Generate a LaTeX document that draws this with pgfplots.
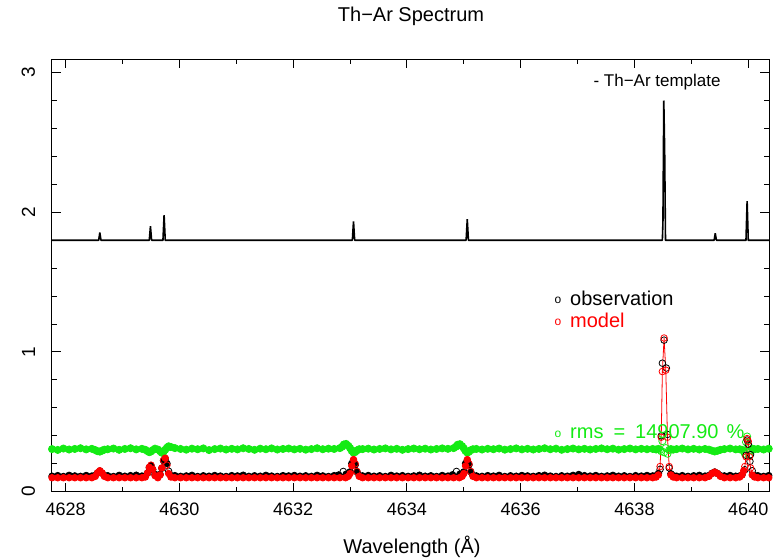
\documentclass[border=0pt]{standalone}
\usepackage{fontspec}
\setmainfont{Liberation Sans}
\usepackage{pgfplots}
\pgfplotsset{compat=1.18}
\definecolor{pgred}{RGB}{255,0,0}
\definecolor{pggreen}{RGB}{20,235,20}
\newcommand{\sym}{\raisebox{1.5pt}{\fontsize{12}{12}\selectfont o}\hspace{9pt}}
\begin{document}
\begin{tikzpicture}[font=\fontsize{20}{23}\selectfont]
\begin{axis}[
  at={(51.7pt,66.3pt)}, anchor=south west,
  scale only axis, width=717.6pt, height=432.4pt,
  xmin=4627.754, xmax=4640.37, ymin=0, ymax=3.095,
  clip=false,
  axis line style={line width=1.5pt},
  tick align=inside,
  major tick length=9pt, minor tick length=5pt,
  every tick/.style={black, line width=1pt},
  xtick={4628,4630,4632,4634,4636,4638,4640}, minor x tick num=1,
  ytick={0,1,2,3}, minor y tick num=4,
  scaled x ticks=false,
  /pgf/number format/1000 sep={},
  /pgf/number format/assume math mode=true,
  xticklabel style={yshift=-8pt},
  yticklabel style={xshift=-13pt, rotate=90, anchor=south, font=\fontsize{19}{22}\selectfont},
  xticklabel style={font=\fontsize{18}{21}\selectfont},
]
% Th-Ar template
\addplot[black, line width=1.6pt, line join=bevel] coordinates {
(4627.754,1.8) (4628.58,1.8) (4628.60,1.855) (4628.62,1.8)
(4629.47,1.8) (4629.49,1.90) (4629.51,1.8)
(4629.71,1.8) (4629.73,1.98) (4629.75,1.8)
(4633.04,1.8) (4633.06,1.935) (4633.08,1.8)
(4635.04,1.8) (4635.06,1.95) (4635.08,1.8)
(4638.49,1.8) (4638.50,1.93) (4638.515,2.80) (4638.53,2.45) (4638.545,1.8)
(4639.40,1.8) (4639.42,1.85) (4639.44,1.8)
(4639.96,1.8) (4639.98,2.08) (4640.00,1.8) (4640.37,1.8)
};
% rms (green)
\addplot[scatter, only marks, line width=0.8pt, mark size=3.6pt,
  scatter src=explicit symbolic,
  scatter/classes={f={mark=*,draw=pggreen,fill=pggreen}, o={mark=o,draw=pggreen}}]
  table[meta=c] {
x y c
4627.76 0.305 f
4627.86 0.299 f
4627.96 0.309 f
4628.06 0.302 f
4628.16 0.306 f
4628.26 0.311 f
4628.36 0.303 f
4628.46 0.307 f
4628.52 0.298 f
4628.56 0.290 f
4628.60 0.287 f
4628.64 0.294 f
4628.68 0.301 f
4628.74 0.304 f
4628.84 0.309 f
4628.94 0.300 f
4629.04 0.306 f
4629.14 0.311 f
4629.24 0.303 f
4629.34 0.307 f
4629.40 0.300 f
4629.44 0.290 f
4629.47 0.283 f
4629.50 0.288 f
4629.53 0.298 f
4629.57 0.308 f
4629.62 0.302 f
4629.66 0.290 f
4629.69 0.279 f
4629.72 0.285 f
4629.75 0.300 f
4629.78 0.315 f
4629.81 0.325 f
4629.85 0.320 f
4629.92 0.312 f
4630.02 0.306 f
4630.12 0.301 f
4630.22 0.308 f
4630.32 0.304 f
4630.42 0.310 f
4630.52 0.298 f
4630.62 0.305 f
4630.72 0.309 f
4630.82 0.302 f
4630.92 0.307 f
4631.02 0.303 f
4631.12 0.311 f
4631.22 0.306 f
4631.32 0.300 f
4631.42 0.308 f
4631.52 0.304 f
4631.62 0.310 f
4631.72 0.302 f
4631.82 0.306 f
4631.92 0.309 f
4632.02 0.303 f
4632.12 0.307 f
4632.22 0.301 f
4632.32 0.305 f
4632.42 0.311 f
4632.52 0.304 f
4632.62 0.308 f
4632.72 0.306 f
4632.82 0.312 f
4632.86 0.322 f
4632.89 0.338 f
4632.93 0.342 f
4632.97 0.328 f
4633.00 0.312 f
4633.03 0.292 f
4633.06 0.279 f
4633.09 0.284 f
4633.12 0.296 f
4633.16 0.304 f
4633.22 0.305 f
4633.32 0.308 f
4633.42 0.302 f
4633.52 0.306 f
4633.62 0.310 f
4633.72 0.303 f
4633.82 0.307 f
4633.92 0.300 f
4634.02 0.305 f
4634.12 0.309 f
4634.22 0.304 f
4634.32 0.308 f
4634.42 0.302 f
4634.52 0.306 f
4634.62 0.310 f
4634.72 0.307 f
4634.82 0.312 f
4634.86 0.322 f
4634.89 0.336 f
4634.93 0.340 f
4634.97 0.326 f
4635.00 0.310 f
4635.03 0.291 f
4635.06 0.280 f
4635.09 0.286 f
4635.12 0.297 f
4635.16 0.304 f
4635.22 0.306 f
4635.32 0.302 f
4635.42 0.307 f
4635.52 0.304 f
4635.62 0.309 f
4635.72 0.301 f
4635.82 0.305 f
4635.92 0.310 f
4636.02 0.303 f
4636.12 0.307 f
4636.22 0.302 f
4636.32 0.306 f
4636.42 0.311 f
4636.52 0.304 f
4636.62 0.308 f
4636.72 0.300 f
4636.82 0.305 f
4636.92 0.309 f
4637.02 0.303 f
4637.12 0.307 f
4637.22 0.302 f
4637.32 0.306 f
4637.42 0.310 f
4637.52 0.304 f
4637.62 0.308 f
4637.72 0.301 f
4637.82 0.305 f
4637.92 0.309 f
4638.02 0.303 f
4638.12 0.307 f
4638.22 0.304 f
4638.32 0.306 f
4638.38 0.302 f
4638.42 0.306 f
4638.45 0.300 o
4638.47 0.290 o
4638.49 0.362 o
4638.52 0.282 o
4638.55 0.312 o
4638.58 0.272 o
4638.61 0.298 o
4638.64 0.305 f
4638.68 0.301 f
4638.74 0.305 f
4638.84 0.309 f
4638.94 0.303 f
4639.04 0.307 f
4639.14 0.302 f
4639.24 0.306 f
4639.31 0.301 f
4639.36 0.294 f
4639.41 0.288 f
4639.46 0.293 f
4639.51 0.300 f
4639.58 0.305 f
4639.68 0.309 f
4639.78 0.303 f
4639.85 0.304 f
4639.89 0.300 f
4639.92 0.290 o
4639.94 0.272 o
4639.96 0.355 o
4639.98 0.395 o
4640.00 0.330 o
4640.02 0.262 o
4640.04 0.298 o
4640.07 0.308 f
4640.11 0.304 f
4640.17 0.306 f
4640.27 0.302 f
4640.36 0.308 f
};
% observation (black)
\addplot[scatter, only marks, line width=0.8pt, mark size=3.3pt,
  scatter src=explicit symbolic,
  scatter/classes={f={mark=*,draw=black,fill=black}, o={mark=o,draw=black}}]
  table[meta=c] {
x y c
4627.76 0.111 f
4627.86 0.115 f
4627.96 0.109 f
4628.06 0.117 f
4628.16 0.113 f
4628.26 0.110 f
4628.36 0.116 f
4628.46 0.112 f
4628.52 0.117 f
4628.56 0.134 f
4628.60 0.148 f
4628.64 0.132 f
4628.68 0.117 f
4628.74 0.114 f
4628.84 0.109 f
4628.94 0.117 f
4629.04 0.111 f
4629.14 0.115 f
4629.24 0.118 f
4629.34 0.112 f
4629.40 0.113 f
4629.44 0.133 f
4629.47 0.172 f
4629.50 0.187 f
4629.53 0.158 f
4629.57 0.124 f
4629.62 0.111 f
4629.66 0.124 f
4629.69 0.168 f
4629.72 0.222 f
4629.75 0.236 f
4629.78 0.202 f
4629.81 0.147 o
4629.85 0.116 f
4629.92 0.115 f
4630.02 0.110 f
4630.12 0.113 f
4630.22 0.117 f
4630.32 0.109 f
4630.42 0.114 f
4630.52 0.111 f
4630.62 0.116 f
4630.72 0.112 f
4630.82 0.109 f
4630.92 0.115 f
4631.02 0.113 f
4631.12 0.118 f
4631.22 0.110 f
4631.32 0.114 f
4631.42 0.111 f
4631.52 0.117 f
4631.62 0.112 f
4631.72 0.109 f
4631.82 0.115 f
4631.92 0.113 f
4632.02 0.116 f
4632.12 0.111 f
4632.22 0.114 f
4632.32 0.110 f
4632.42 0.117 f
4632.52 0.113 f
4632.62 0.109 f
4632.72 0.115 f
4632.80 0.120 f
4632.88 0.145 o
4632.93 0.125 f
4632.97 0.129 f
4633.00 0.142 f
4633.03 0.202 f
4633.06 0.220 o
4633.09 0.192 f
4633.12 0.143 f
4633.16 0.116 f
4633.22 0.113 f
4633.32 0.116 f
4633.42 0.111 f
4633.52 0.114 f
4633.62 0.109 f
4633.72 0.117 f
4633.82 0.112 f
4633.92 0.115 f
4634.02 0.110 f
4634.12 0.113 f
4634.22 0.118 f
4634.32 0.111 f
4634.42 0.114 f
4634.52 0.109 f
4634.62 0.116 f
4634.72 0.112 f
4634.80 0.121 f
4634.87 0.145 o
4634.93 0.125 f
4634.97 0.129 f
4635.00 0.142 f
4635.03 0.202 f
4635.06 0.220 o
4635.09 0.192 f
4635.12 0.143 f
4635.16 0.116 f
4635.22 0.113 f
4635.32 0.110 f
4635.42 0.115 f
4635.52 0.112 f
4635.62 0.117 f
4635.72 0.109 f
4635.82 0.114 f
4635.92 0.111 f
4636.02 0.116 f
4636.12 0.113 f
4636.22 0.110 f
4636.32 0.115 f
4636.42 0.118 f
4636.52 0.112 f
4636.62 0.109 f
4636.72 0.114 f
4636.82 0.111 f
4636.92 0.117 f
4637.02 0.123 f
4637.12 0.115 f
4637.22 0.112 f
4637.32 0.116 f
4637.42 0.110 f
4637.52 0.113 f
4637.62 0.117 f
4637.72 0.111 f
4637.82 0.114 f
4637.92 0.109 f
4638.02 0.115 f
4638.12 0.112 f
4638.22 0.116 f
4638.32 0.113 f
4638.38 0.115 f
4638.42 0.130 f
4638.45 0.160 o
4638.47 0.400 o
4638.49 0.920 o
4638.52 1.085 o
4638.56 0.885 o
4638.58 0.410 o
4638.61 0.170 o
4638.64 0.128 f
4638.68 0.115 f
4638.74 0.111 f
4638.84 0.115 f
4638.94 0.110 f
4639.04 0.114 f
4639.14 0.117 f
4639.24 0.112 f
4639.31 0.116 f
4639.36 0.131 f
4639.41 0.141 f
4639.46 0.130 f
4639.51 0.115 f
4639.58 0.113 f
4639.68 0.116 f
4639.78 0.111 f
4639.85 0.113 f
4639.89 0.121 f
4639.94 0.157 o
4639.96 0.260 o
4639.98 0.370 o
4640.00 0.340 o
4640.03 0.217 o
4640.04 0.265 o
4640.07 0.150 o
4640.11 0.116 f
4640.17 0.114 f
4640.27 0.110 f
4640.36 0.115 f
};
% model (red)
\addplot[scatter, pgred, line width=0.8pt, line join=round, mark size=3.3pt,
  scatter src=explicit symbolic,
  scatter/classes={f={mark=*,draw=pgred,fill=pgred}, o={mark=o,draw=pgred}}]
  table[meta=c] {
x y c
4627.76 0.100 f
4627.86 0.100 f
4627.96 0.100 f
4628.06 0.100 f
4628.16 0.100 f
4628.26 0.100 f
4628.36 0.100 f
4628.46 0.100 f
4628.52 0.110 f
4628.56 0.135 f
4628.60 0.150 f
4628.64 0.135 f
4628.68 0.110 f
4628.74 0.100 f
4628.84 0.100 f
4628.94 0.100 f
4629.04 0.100 f
4629.14 0.100 f
4629.24 0.100 f
4629.34 0.100 f
4629.40 0.105 f
4629.44 0.135 f
4629.47 0.175 f
4629.50 0.190 o
4629.53 0.160 f
4629.57 0.115 f
4629.62 0.100 f
4629.66 0.120 f
4629.69 0.170 f
4629.72 0.225 o
4629.75 0.240 f
4629.78 0.190 o
4629.81 0.130 f
4629.85 0.105 f
4629.92 0.100 f
4630.02 0.100 f
4630.12 0.100 f
4630.22 0.100 f
4630.32 0.100 f
4630.42 0.100 f
4630.52 0.100 f
4630.62 0.100 f
4630.72 0.100 f
4630.82 0.100 f
4630.92 0.100 f
4631.02 0.100 f
4631.12 0.100 f
4631.22 0.100 f
4631.32 0.100 f
4631.42 0.100 f
4631.52 0.100 f
4631.62 0.100 f
4631.72 0.100 f
4631.82 0.100 f
4631.92 0.100 f
4632.02 0.100 f
4632.12 0.100 f
4632.22 0.100 f
4632.32 0.100 f
4632.42 0.100 f
4632.52 0.100 f
4632.62 0.100 f
4632.72 0.100 f
4632.82 0.100 f
4632.92 0.100 f
4632.97 0.110 f
4633.00 0.130 f
4633.03 0.185 f
4633.06 0.230 f
4633.09 0.200 o
4633.12 0.145 o
4633.16 0.110 f
4633.22 0.100 f
4633.32 0.100 f
4633.42 0.100 f
4633.52 0.100 f
4633.62 0.100 f
4633.72 0.100 f
4633.82 0.100 f
4633.92 0.100 f
4634.02 0.100 f
4634.12 0.100 f
4634.22 0.100 f
4634.32 0.100 f
4634.42 0.100 f
4634.52 0.100 f
4634.62 0.100 f
4634.72 0.100 f
4634.82 0.100 f
4634.92 0.100 f
4634.97 0.110 f
4635.00 0.130 f
4635.03 0.185 f
4635.06 0.230 f
4635.09 0.200 o
4635.12 0.145 o
4635.16 0.110 f
4635.22 0.100 f
4635.32 0.100 f
4635.42 0.100 f
4635.52 0.100 f
4635.62 0.100 f
4635.72 0.100 f
4635.82 0.100 f
4635.92 0.100 f
4636.02 0.100 f
4636.12 0.100 f
4636.22 0.100 f
4636.32 0.100 f
4636.42 0.100 f
4636.52 0.100 f
4636.62 0.100 f
4636.72 0.100 f
4636.82 0.100 f
4636.92 0.100 f
4637.02 0.100 f
4637.12 0.100 f
4637.22 0.100 f
4637.32 0.100 f
4637.42 0.100 f
4637.52 0.100 f
4637.62 0.100 f
4637.72 0.100 f
4637.82 0.100 f
4637.92 0.100 f
4638.02 0.100 f
4638.12 0.100 f
4638.22 0.100 f
4638.32 0.100 f
4638.38 0.105 f
4638.42 0.120 f
4638.45 0.180 o
4638.47 0.390 o
4638.49 0.860 o
4638.52 1.100 o
4638.55 0.870 o
4638.58 0.390 o
4638.61 0.180 o
4638.64 0.120 f
4638.68 0.105 f
4638.74 0.100 f
4638.84 0.100 f
4638.94 0.100 f
4639.04 0.100 f
4639.14 0.100 f
4639.24 0.100 f
4639.31 0.110 f
4639.36 0.130 f
4639.41 0.140 f
4639.46 0.130 f
4639.51 0.110 f
4639.58 0.100 f
4639.68 0.100 f
4639.78 0.100 f
4639.85 0.105 f
4639.89 0.120 f
4639.92 0.150 f
4639.94 0.180 o
4639.96 0.250 o
4639.98 0.380 o
4640.00 0.360 o
4640.02 0.250 o
4640.04 0.170 o
4640.07 0.120 f
4640.11 0.105 f
4640.17 0.100 f
4640.27 0.100 f
4640.36 0.100 f
};
\end{axis}
\node at (411pt,542pt) {Th−Ar Spectrum};
\node at (412pt,11pt) {Wavelength (Å)};
\node[anchor=west, font=\fontsize{17}{20}\selectfont] at (590pt,476pt) {-\ Th−Ar template};
\node[anchor=west] at (551pt,260pt) {\sym observation};
\node[anchor=west, text=pgred] at (551pt,238pt) {\sym model};
\node[anchor=west, text=pggreen] at (551pt,126pt) {\sym rms\hspace{10pt}=\hspace{10pt}14907.90\hspace{8pt}\%};
\pgfresetboundingbox
\path[use as bounding box] (0,0) rectangle (781pt,558pt);
\end{tikzpicture}
\end{document}
